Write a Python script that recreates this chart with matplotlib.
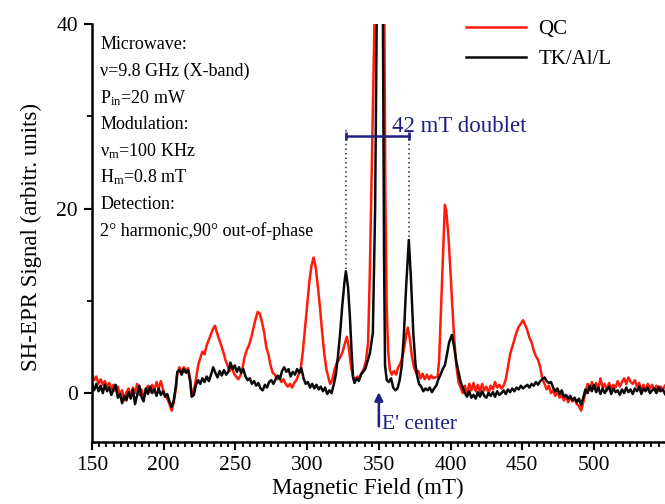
import matplotlib
matplotlib.use("Agg")
import matplotlib.pyplot as plt
from matplotlib.ticker import MultipleLocator

# ---------------- data ----------------
qc_field = [150, 151.5, 153, 154.5, 156, 157.5, 159, 160.5, 162, 163.5, 165, 166.5, 168, 169.5, 171, 172.5,
            174, 175.5, 177, 178.5, 180, 181.5, 183, 184.5, 186, 187.5, 189, 190.5, 192, 193.5, 195, 196.5,
            198, 199.5, 201, 202.5, 204, 205.5, 207, 208.5, 209.5, 211, 212.5, 214, 215.5, 217, 218.5, 219.5,
            221, 222.5, 224, 225.5, 227, 228.5, 230, 231.5, 233, 234.5, 235.7, 237, 238.5, 240, 241.5, 243,
            244.5, 246, 247.5, 249, 250.5, 252, 253.5, 255, 256.5, 258, 259.5, 261, 262.5, 264, 265.5, 267,
            268.5, 270, 271.5, 273, 274.5, 276, 277.5, 279, 280.5, 282, 283.5, 285, 286.5, 288, 289.5, 291,
            292.5, 294, 295.5, 297, 298.5, 300, 301.5, 303, 304.5, 306, 307.5, 309, 310.5, 312, 313.5, 315,
            316, 317.5, 319, 320.5, 322, 323.5, 325, 326.5, 327.7, 329, 330.5, 332, 333.5, 335, 336.5, 338,
            339.5, 341, 342.5, 343.7, 345.5, 347.2, 350.5, 353.8, 354.5, 355.5, 356.5, 357.7, 359, 360.5, 362,
            363.5, 365, 366.5, 368, 369.2, 370.2, 371.5, 373, 374.5, 376, 377.5, 379, 380.5, 382, 383.5, 385,
            386.5, 388, 389.5, 391, 392, 393, 394.5, 396, 397, 398.5, 400, 401, 402.5, 404, 405.5, 407, 408.5,
            410, 411.5, 413, 414.5, 416, 417.5, 419, 420.5, 422, 423.5, 425, 426.5, 428, 429.5, 431, 432.5,
            434, 435.5, 437, 438.5, 440, 441.5, 443, 444.5, 446, 447.5, 449, 450.5, 452, 453.5, 455, 456.5,
            458, 459.5, 461, 462.5, 464, 465.5, 467, 468.5, 470, 471.5, 473, 474.5, 476, 477.5, 479, 480.5,
            482, 483.5, 485, 486.5, 488, 489.5, 491, 492.5, 494, 495.5, 497, 498.5, 500, 501.5, 503, 504.5,
            506, 507.5, 509, 510.5, 512, 513.5, 515, 516.5, 518, 519.5, 521, 522.5, 524, 525.5, 527, 528.5,
            530, 531.5, 533, 534.5, 536, 537.5, 539, 540.5, 542, 543.5, 545, 546.5, 548, 549.5]
qc_signal = [2.0, 1.4, 1.8, 1.0, 1.5, 0.9, 1.3, 0.6, 1.1, 0.4, 0.9, 0.2, 0.7, -0.3, 0.3, -0.8,
             0.1, 0.5, -0.4, 0.6, 0.0, 1.0, -0.2, 0.4, -0.5, 0.3, 0.8, 0.1, 0.9, 0.3, 1.2, 0.5,
             1.3, 0.4, -0.2, -0.6, -1.2, -1.9, -1.0, 0.5, 2.2, 2.8, 2.3, 2.8, 2.4, 2.7, 1.5, -0.2,
             0.3, 1.5, 3.0, 3.8, 4.5, 4.2, 5.2, 5.8, 6.4, 7.0, 7.3, 6.6, 5.9, 5.2, 4.5, 3.6,
             3.0, 2.4, 2.9, 2.1, 1.8, 1.5, 1.9, 2.8, 4.0, 4.7, 5.2, 6.0, 7.0, 8.0, 8.8, 8.6,
             7.7, 6.6, 5.0, 4.2, 3.0, 2.2, 2.0, 1.5, 1.8, 1.2, 1.5, 1.0, 0.7, 1.0, 0.6, 1.1,
             1.4, 2.0, 2.6, 4.5, 7.0, 9.6, 12.0, 13.8, 14.7, 13.6, 11.5, 9.2, 6.5, 4.2, 2.5, 1.6,
             1.0, 1.4, 2.5, 3.2, 3.6, 4.0, 4.6, 5.5, 6.1, 5.0, 3.0, 1.8, 1.4, 1.8, 1.6, 2.2,
             2.6, 3.5, 5.5, 13, 28, 42, 95, 42, 22, 9, 4.5, 2.5, 2.0, 2.4, 2.0,
             2.8, 3.2, 4.0, 5.2, 6.4, 7.1, 6.0, 4.0, 2.8, 2.2, 2.4, 1.6, 2.1, 1.5, 2.0, 1.5,
             1.9, 1.6, 1.7, 1.8, 3.5, 7.6, 14.0, 20.4, 19.8, 17.0, 13.0, 10.0, 6.0, 3.0, 1.2, 0.6, 0.0,
             0.8, -0.2, 1.0, 0.3, 1.1, 0.2, 0.9, 0.1, 1.0, 0.3, 0.7, 0.0, 0.8, 0.4, 1.2, 0.6,
             0.9, 0.5, 0.8, 1.5, 2.8, 4.2, 5.0, 5.8, 6.6, 7.2, 7.5, 7.9, 7.4, 6.8, 6.0, 5.5,
             4.6, 4.0, 3.6, 2.8, 1.5, 1.0, 0.4, 0.8, 0.0, 0.3, -0.3, 0.2, -0.5, -0.2, -0.8, -0.3,
             -1.0, -0.4, -0.9, -0.6, -1.2, -1.4, -1.9, -1.0, 0.0, 1.0, 0.3, 1.2, 0.5, 1.1, 0.4, 1.6,
             0.6, 1.0, 0.3, 1.1, 0.5, 0.9, 0.6, 1.3, 0.7, 1.2, 1.6, 1.0, 1.7, 1.2, 1.0, 1.4,
             0.7, 1.1, 0.4, 0.9, 0.3, 1.0, 0.5, 0.9, 0.3, 0.8, 0.2, 0.7, 0.4, 0.8]

tk_field = [150, 151.5, 153, 154.5, 156, 157.5, 159, 160.5, 162, 163.5, 165, 166.5, 168, 169.5, 171, 172.5,
            174, 175.5, 177, 178.5, 180, 181.5, 183, 184.5, 186, 187.5, 189, 190.5, 192, 193.5, 195, 196.5,
            198, 199.5, 201, 202.5, 204, 205.5, 207, 208.5, 209.5, 211, 212.5, 214, 215.5, 217, 218.5, 219.5,
            221, 222.5, 224, 225.5, 227, 228.5, 230, 231.5, 233, 234.5, 236, 237.5, 239, 240.5, 242, 243.5,
            245, 246.5, 248, 249.5, 251, 252.5, 254, 255.5, 257, 258.5, 260, 261.5, 263, 264.5, 266, 267.5,
            269, 270.5, 272, 273.5, 275, 276.5, 278, 279.5, 281, 282.5, 284, 285.5, 287, 288.5, 290, 291.5,
            293, 294.5, 296, 297.5, 299, 300.5, 302, 303.5, 305, 306.5, 308, 309.5, 311, 312.5, 314, 315.5,
            317, 318.5, 320, 321.5, 323, 324.5, 326, 327, 328.5, 329.8, 331, 332, 333, 334.5, 336, 337.5,
            339, 340.5, 342, 343.7, 345.8, 347.4, 348.6, 350.7, 352.8, 353.6, 354.3, 355.5, 357, 358.5, 360,
            361.5, 363, 364.5, 366, 367.5, 369, 370.9, 372.5, 374, 375.5, 376.5, 378, 379.5, 381, 382.5, 384,
            385.5, 387, 388.5, 390, 391.5, 393, 394.5, 396, 397.5, 399, 400.9, 402.5, 404, 405.5, 407, 408.5,
            410, 411.5, 413, 414.5, 416, 417.5, 419, 420.5, 422, 423.5, 425, 426.5, 428, 429.5, 431, 432.5,
            434, 435.5, 437, 438.5, 440, 441.5, 443, 444.5, 446, 447.5, 449, 450.5, 452, 453.5, 455, 456.5,
            458, 459.5, 461, 462.5, 464, 465.5, 467, 468.5, 470, 471.5, 473, 474.5, 476, 477.5, 479, 480.5,
            482, 483.5, 485, 486.5, 488, 489.5, 491, 492.5, 494, 495.5, 497, 498.5, 500, 501.5, 503, 504.5,
            506, 507.5, 509, 510.5, 512, 513.5, 515, 516.5, 518, 519.5, 521, 522.5, 524, 525.5, 527, 528.5,
            530, 531.5, 533, 534.5, 536, 537.5, 539, 540.5, 542, 543.5, 545, 546.5, 548, 549.5]
tk_signal = [1.1, 0.3, 1.0, 0.2, 0.8, 0.0, 0.9, 0.2, 0.6, -0.2, 0.4, 0.9, -0.5, -0.1, -1.1, -0.3,
             -0.8, 0.1, -0.6, 0.4, -1.2, -0.2, 0.8, -0.4, -0.9, 0.5, -0.1, 0.7, 0.0, 0.4, -0.3, 0.5,
             -0.2, 0.2, -0.4, -0.1, -0.9, -1.5, -0.8, 0.8, 2.3, 2.5, 2.0, 2.6, 2.2, 2.5, 1.2, -0.4,
             -0.2, 0.9, 1.4, 1.0, 1.6, 1.2, 1.8, 1.3, 2.0, 2.8, 2.2, 1.7, 2.4, 1.9, 2.5, 2.0,
             2.3, 3.3, 2.6, 3.0, 2.3, 2.8, 2.2, 2.6, 1.8, 1.4, 1.6, 1.0, 1.3, 0.8, 1.1, 0.5,
             0.3, 0.9, 0.6, 1.2, 1.4, 1.0, 1.5, 1.9, 1.5, 2.4, 2.8, 2.3, 2.6, 1.8, 2.3, 2.0,
             2.6, 2.2, 2.7, 1.6, 1.0, 1.2, 0.6, 1.0, 0.5, 0.9, 0.4, 0.7, 0.2, 0.6, -0.1, 0.3,
             0.0, 0.9, 2.0, 4.0, 6.5, 9.5, 12.0, 13.2, 11.5, 8.3, 4.5, 1.7, 1.1, 1.6, 1.3, 2.0,
             2.3, 2.6, 3.4, 4.3, 6.5, 20, 42, 110, 42, 15, 3.0, 1.4, 1.2, 1.6, 0.6,
             0.3, 0.5, 1.4, 3.0, 6.5, 11.5, 16.6, 12.0, 6.5, 3.2, 2.0, 1.0, 0.7, 0.2, 0.5, 0.3,
             0.6, 0.1, 0.5, 0.8, 1.5, 2.0, 2.6, 3.0, 4.2, 5.5, 6.3, 5.0, 3.4, 2.3, 1.2, 0.6,
             0.0, -0.4, 0.2, -0.5, -0.2, -0.6, 0.1, -0.4, 0.2, -0.3, -0.5, 0.0, -0.3, 0.1, -0.4, 0.2,
             -0.2, 0.0, 0.3, -0.1, 0.4, 0.1, 0.5, 0.2, 0.6, 0.4, 0.8, 0.5, 0.7, 0.9, 0.6, 1.0,
             0.8, 1.2, 0.9, 1.3, 1.5, 1.7, 1.3, 1.1, 1.2, 0.6, 0.2, 0.5, -0.1, 0.3, -0.4, -0.2,
             -0.6, -0.3, -0.8, -0.5, -1.0, -0.6, -1.3, -0.5, 0.4, 0.0, 0.8, 0.2, 0.9, 0.1, 0.6, -0.1,
             0.5, 0.0, 0.4, 0.7, -0.1, 0.5, 0.1, 0.3, -0.2, 0.4, 0.0, 0.6, 0.1, 0.4, -0.1, 0.5,
             0.2, 0.7, -0.1, 0.5, 0.2, 0.6, 0.0, 0.3, 0.5, 0.0, 0.7, 0.2, 0.4, -0.1]

series_labels = ["QC", "TK/Al/L"]
x_ticks = [150, 200, 250, 300, 350, 400, 450, 500]
y_ticks = [0, 20, 40]
doublet_fields = [327.3, 371.3]   # the two peaks of the 42 mT doublet
doublet_tops = [13.4, 16.8]
doublet_level = 27.9
e_center_field = 350
info_lines = ["Microwave:",
              "ν=9.8 GHz (X-band)",
              r"P$_{\rm in}$=20 mW",
              "Modulation:",
              r"ν$_{\rm m}$=100 KHz",
              r"H$_{\rm m}$=0.8 mT",
              "Detection:",
              "2° harmonic,90° out-of-phase"]

# ---------------- style ----------------
plt.rcParams['font.family'] = ['Liberation Serif', 'DejaVu Serif']
plt.rcParams['mathtext.fontset'] = 'custom'
plt.rcParams['mathtext.rm'] = 'Liberation Serif'
plt.rcParams['mathtext.it'] = 'Liberation Serif:italic'

navy = '#1f1f86'

fig = plt.figure(figsize=(6.65, 5.04), dpi=100)
ax = fig.add_axes([92 / 665, 1 - 442 / 504, 1 - 92 / 665, (442 - 24) / 504])

ax.plot(qc_field, qc_signal, color='#ff1a0a', lw=1.8, label=series_labels[0])
ax.plot(tk_field, tk_signal, color='#0a0a0a', lw=1.8, label=series_labels[1])

ax.set_xlim(150, 549.5)
ax.set_ylim(-5.3, 40)

for s in ['top', 'right']:
    ax.spines[s].set_visible(False)
for s in ['left', 'bottom']:
    ax.spines[s].set_linewidth(1.8)

ax.set_xticks(x_ticks)
ax.set_yticks(y_ticks)
ax.xaxis.set_minor_locator(MultipleLocator(5))
ax.yaxis.set_minor_locator(MultipleLocator(10))
ax.tick_params(axis='both', which='major', direction='out', length=6, width=1.5,
               labelsize=15.5, pad=4)
ax.tick_params(axis='both', which='minor', direction='out', length=3.5, width=1.3)

ax.set_xlabel("Magnetic Field (mT)", fontsize=16.5)
ax.xaxis.set_label_coords(0.482, -0.085)
ax.set_ylabel("SH-EPR Signal (arbitr. units)", fontsize=16.5)
ax.yaxis.set_label_coords(-0.088, 0.49)

# info text block
for i, line in enumerate(info_lines):
    ax.text(0.014, 0.95 - i * 0.0635, line, transform=ax.transAxes,
            fontsize=13, ha='left', va='center')

# legend
leg = ax.legend(loc='upper left', bbox_to_anchor=(0.652, 1.01), frameon=False,
                fontsize=15, handlelength=2.9, handletextpad=0.6,
                labelspacing=0.5, borderaxespad=0, borderpad=0)

# 42 mT doublet annotation
ax.plot(doublet_fields, [doublet_level, doublet_level], color=navy, lw=1.8,
        marker='|', markersize=6, markeredgewidth=1.8)
for fx, top in zip(doublet_fields, doublet_tops):
    ax.plot([fx, fx], [doublet_level + 0.6, top], color=navy, lw=1.1,
            linestyle=(0, (1, 2)))
ax.text(359.5, 28.9, "42 mT doublet", color=navy, fontsize=16.5, ha='left', va='center')

# E' center arrow
ax.annotate("", xy=(e_center_field, 0.1), xytext=(e_center_field, -3.6),
            arrowprops=dict(arrowstyle='-|>', color=navy, lw=1.8,
                            mutation_scale=12, shrinkA=0, shrinkB=0))
ax.text(e_center_field + 2.5, -3.4, "E' center", color=navy, fontsize=15.5,
        ha='left', va='center')

fig.savefig("out.png", dpi=100)
